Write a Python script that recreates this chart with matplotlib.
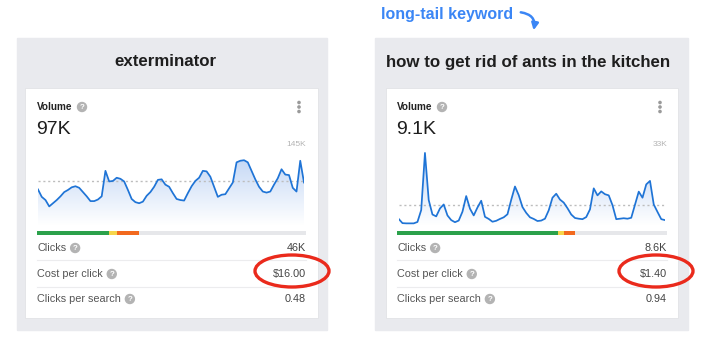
import numpy as np
import matplotlib.pyplot as plt
from matplotlib.patches import Rectangle, Ellipse, Circle, FancyArrowPatch
from matplotlib.colors import LinearSegmentedColormap

plt.rcParams['font.family'] = ['Liberation Sans', 'DejaVu Sans']

# monthly search volume in thousands
ext_volume = [67, 53, 47, 35, 41, 47, 54, 62, 66, 71,
              73, 70, 62, 54, 45, 45, 48, 54, 102, 82,
              83, 89, 87, 82, 66, 49, 43, 41, 44, 55,
              62, 72, 85, 86, 76, 72, 60, 49, 47, 46,
              60, 73, 83, 89, 102, 101, 91, 72, 53, 57,
              58, 69, 80, 118, 121, 122, 118, 102, 86, 72,
              63, 61, 63, 76, 88, 105, 95, 94, 70, 63,
              121, 80]
ants_volume = [2.6, 0.8, 0.7, 0.7, 0.7, 1.3, 6.4, 30.9, 10.7, 4.5,
               3.7, 7.1, 8.8, 4.1, 2.1, 1.2, 1.9, 5.7, 12.4, 7.0,
               4.1, 7.5, 10.4, 3.5, 2.6, 1.4, 1.8, 2.6, 3.3, 4.6,
               10.8, 16.5, 12.8, 7.7, 5.2, 3.3, 2.6, 1.7, 1.9, 2.7,
               6.3, 11.7, 13.4, 10.9, 9.6, 7.2, 4.5, 3.0, 2.7, 2.5,
               3.4, 6.7, 15.7, 12.7, 14.4, 13.2, 12.7, 8.5, 2.5, 2.7,
               2.9, 2.7, 3.1, 8.7, 14.3, 11.7, 17.4, 18.9, 8.8, 5.6,
               2.5, 2.1]
ext_max, ants_max = 145, 33      # top of each sparkline
ext_avg, ants_avg = 83, 8.6      # dotted reference line

titles = ["exterminator", "how to get rid of ants in the kitchen"]
volume_labels = ["97K", "9.1K"]
max_labels = ["145K", "33K"]
row_names = ["Clicks", "Cost per click", "Clicks per search"]
ext_rows = ["46K", "$16.00", "0.48"]
ants_rows = ["8.6K", "$1.40", "0.94"]
# clicks bar shares: green, yellow, orange (rest is grey)
ext_split = [0.268, 0.029, 0.082]
ants_split = [0.595, 0.022, 0.041]

W, H = 720, 342
fig = plt.figure(figsize=(W / 100, H / 100), dpi=100)
bg = fig.add_axes([0, 0, 1, 1])
bg.set_xlim(0, W)
bg.set_ylim(H, 0)
bg.axis('off')
renderer = fig.canvas.get_renderer()

LINE = '#1f74d6'
fade = LinearSegmentedColormap.from_list('fade', ['#ffffff', '#bcd2f4'])
bar_colors = ['#2ba14b', '#f6d54a', '#f2691e']

panels = [
    dict(x0=17, x1=327, cx=165, c0=25, c1=318, l=37, r=306, ch0=38, ch1=304,
         vals=ext_volume, ymax=ext_max, avg=ext_avg, split=ext_split,
         rows=ext_rows, ell=292),
    dict(x0=375, x1=688, cx=528, c0=386, c1=678, l=397, r=667, ch0=398.7, ch1=665,
         vals=ants_volume, ymax=ants_max, avg=ants_avg, split=ants_split,
         rows=ants_rows, ell=656),
]


def qmark_after(txt, y, gap=9):
    # little grey "?" badge placed just right of a label
    x = txt.get_window_extent(renderer).x1 + gap
    bg.add_patch(Circle((x, y), 4.5, color='#b3b3b3', zorder=3))
    bg.text(x, y + 0.3, "?", color='white', fontsize=5.8, fontweight='bold',
            ha='center', va='center', zorder=4)


for i, p in enumerate(panels):
    # grey outer panel and white card
    bg.add_patch(Rectangle((p['x0'], 38), p['x1'] - p['x0'], 292,
                           color='#e9eaee', zorder=0))
    bg.add_patch(Rectangle((p['c0'], 88), p['c1'] - p['c0'], 230,
                           facecolor='white', edgecolor='#e2e3e6', lw=0.6, zorder=1))
    bg.text(p['cx'], 62, titles[i], fontsize=12.2, fontweight='bold',
            color='#1e1e1e', ha='center', va='center')

    l, r = p['l'], p['r']
    t = bg.text(l, 107, "Volume", fontsize=7.2, fontweight='bold', color='#222',
                ha='left', va='center')
    qmark_after(t, 107, gap=9.5)
    for dy in (-4.5, 0, 4.5):
        bg.add_patch(Circle((r - 7, 107 + dy), 1.1, color='#9a9a9a', zorder=3))
    bg.text(l - 1, 130, volume_labels[i], fontsize=14, color='#1e1e1e',
            ha='left', va='center')
    bg.text(r, 145, max_labels[i], fontsize=6, color='#b4b4b4',
            ha='right', va='center')

    # sparkline
    ax = fig.add_axes([p['ch0'] / W, 1 - 225 / H, (p['ch1'] - p['ch0']) / W, 77 / H])
    x = np.arange(len(p['vals']))
    ax.set_xlim(0, len(x) - 1)
    ax.set_ylim(0, p['ymax'])
    ax.axis('off')
    ax.patch.set_alpha(0)
    grad = np.linspace(1, 0, 256).reshape(-1, 1)
    im = ax.imshow(grad, cmap=fade, aspect='auto', origin='upper',
                   extent=[0, len(x) - 1, 0, p['ymax']], zorder=1)
    poly = ax.fill_between(x, p['vals'], 0, color='none')
    im.set_clip_path(poly.get_paths()[0], transform=ax.transData)
    ax.axhline(p['avg'], color='#bdbdbd', lw=1, ls=(0, (1.5, 2)), zorder=2)
    ax.plot(x, p['vals'], color=LINE, lw=1.25, zorder=3, solid_joinstyle='round')

    # clicks split bar
    width = r - l
    bg.barh(233, width, left=l, height=4, color='#e6e7ea', zorder=2)
    left = l
    for share, col in zip(p['split'], bar_colors):
        bg.barh(233, share * width, left=left, height=4, color=col, zorder=3)
        left += share * width

    # metric rows
    for name, val, y in zip(row_names, p['rows'], (248, 274, 299)):
        t = bg.text(l, y, name, fontsize=7.8, color='#555', ha='left', va='center')
        bg.text(r, y, val, fontsize=7.8, color='#444', ha='right', va='center')
        qmark_after(t, y)
    for y in (260, 287):
        bg.plot([l, r], [y, y], color='#ececee', lw=0.8)

    bg.add_patch(Ellipse((p['ell'], 271), 74, 32, fill=False,
                         edgecolor='#ea2a1c', lw=2.4, zorder=5))

# annotation
bg.text(381, 15, "long-tail keyword", fontsize=11.5, fontweight='bold',
        color='#3b86f5', ha='left', va='center')
bg.add_patch(FancyArrowPatch((518, 12), (533, 33), connectionstyle='arc3,rad=-0.6',
                             arrowstyle='-|>', mutation_scale=10, lw=1.8,
                             color='#3b86f5'))

fig.savefig('out.png', dpi=100)
